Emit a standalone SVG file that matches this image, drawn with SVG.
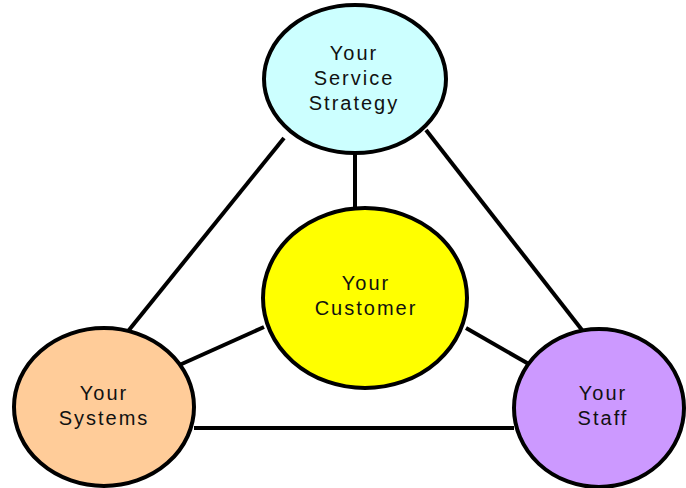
<svg xmlns="http://www.w3.org/2000/svg" width="686" height="488" viewBox="0 0 686 488">
  <style>
    .link { stroke: #000; stroke-width: 4; fill: none; }
    .node { stroke: #000; stroke-width: 4; }
    .label { font-family: "Liberation Sans", Arial, sans-serif; font-size: 20px; letter-spacing: 2px; fill: #111; text-anchor: middle; }
  </style>
  <rect width="686" height="488" fill="#fff"/>
  <g id="connectors">
    <line class="link" x1="355" y1="152" x2="355" y2="210"/>
    <line class="link" x1="284" y1="138" x2="129" y2="330"/>
    <line class="link" x1="426" y1="130" x2="582" y2="330"/>
    <line class="link" x1="264" y1="327" x2="175" y2="367"/>
    <line class="link" x1="466" y1="328" x2="534" y2="367"/>
    <line class="link" x1="194" y1="428" x2="514" y2="428"/>
  </g>
  <g id="strategy">
    <ellipse class="node" cx="355" cy="79" rx="91" ry="74" fill="#CCFFFF"/>
    <text class="label" x="354" y="60">Your</text>
    <text class="label" x="354" y="85">Service</text>
    <text class="label" x="354" y="110">Strategy</text>
  </g>
  <g id="customer">
    <ellipse class="node" cx="365" cy="298" rx="102" ry="90" fill="#FFFF00"/>
    <text class="label" x="366" y="290">Your</text>
    <text class="label" x="366" y="315">Customer</text>
  </g>
  <g id="systems">
    <ellipse class="node" cx="104" cy="407" rx="90" ry="79" fill="#FFCC99"/>
    <text class="label" x="104" y="400">Your</text>
    <text class="label" x="104" y="425">Systems</text>
  </g>
  <g id="staff">
    <ellipse class="node" cx="599" cy="408" rx="85" ry="79" fill="#CC99FF"/>
    <text class="label" x="603" y="400">Your</text>
    <text class="label" x="603" y="425">Staff</text>
  </g>
</svg>
